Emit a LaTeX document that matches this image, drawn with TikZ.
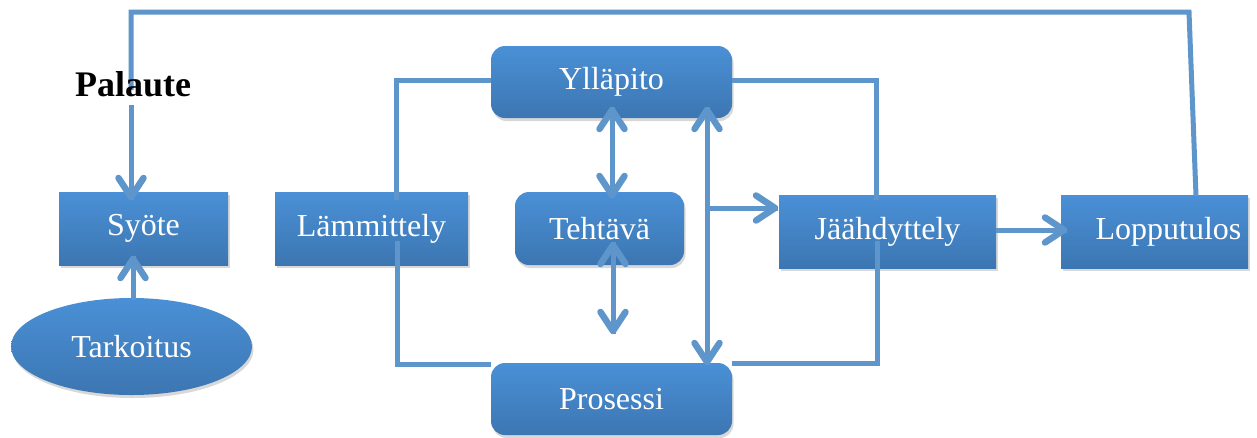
\documentclass[tikz,border=0pt]{standalone}
\usepackage{fontspec}
\setmainfont{Liberation Serif}
\usetikzlibrary{arrows.meta,shapes.geometric,shadows,shadings,decorations.markings}
\definecolor{boxtop}{RGB}{74,144,214}
\definecolor{boxbot}{RGB}{60,118,178}
\definecolor{conn}{RGB}{94,149,203}
\tikzset{
  blk/.style={draw=none, top color=boxtop, bottom color=boxbot, text=white,
    font=\fontsize{32}{38}\selectfont, inner sep=0pt,
    drop shadow={opacity=0.3, shadow xshift=1.5pt, shadow yshift=-3pt}},
  sqbox/.style={blk, rectangle},
  rbox/.style={blk, rectangle, rounded corners=14pt},
  oval/.style={blk, ellipse},
  conline/.style={draw=conn, line width=5pt},
  endbarb/.style={postaction={decorate, decoration={markings,
     mark=at position 1 with {\draw[conn, line width=6.5pt, line cap=round, line join=round] (-22pt,12.5pt) -- (-3pt,0pt) -- (-22pt,-12.5pt);}}}},
  startbarb/.style={postaction={decorate, decoration={markings,
     mark=at position 0 with {\draw[conn, line width=6.5pt, line cap=round, line join=round] (22pt,12.5pt) -- (3pt,0pt) -- (22pt,-12.5pt);}}}},
  arr/.style={conline, endbarb},
  darr/.style={conline, endbarb, startbarb},
}
\begin{document}
\begin{tikzpicture}[x=1pt,y=-1pt]
\useasboundingbox[fill=white] (0,0) rectangle (1257,437);
% nodes
\node[sqbox, minimum width=169pt, minimum height=73pt] (syote) at (143.5,228.5) {Syöte};
\node[oval, minimum width=241pt, minimum height=97pt] (tark) at (131.5,346.5) {Tarkoitus};
\node[sqbox, minimum width=193pt, minimum height=73pt] (lamm) at (371.5,228.5) {Lämmittely};
\node[rbox, minimum width=241pt, minimum height=72pt] (yll) at (611.5,82) {Ylläpito};
\node[rbox, minimum width=169pt, minimum height=73pt] (teh) at (599.5,228.5) {Tehtävä};
\node[rbox, minimum width=241pt, minimum height=72pt] (pros) at (611.5,399) {Prosessi};
\node[sqbox, minimum width=217pt, minimum height=73pt] (jaah) at (887.5,231.5) {Jäähdyttely};
\node[sqbox, minimum width=187pt, minimum height=73pt] (lop) at (1154.5,231.5) {\hspace*{28pt}Lopputulos};
% coordinates
\coordinate (fbstart) at (1196,196);
\coordinate (fbtr) at (1189,12);
\coordinate (fbtl) at (131,12);
\coordinate (fbend) at (131,90);
\coordinate (fbarr) at (131,105);
\coordinate (syotein) at (131,200);
\coordinate (tarkout) at (133,300);
\coordinate (syotebot) at (133,256);
\coordinate (lamtop) at (396,200);
\coordinate (lamtopc) at (396,80);
\coordinate (lambot) at (397,241);
\coordinate (lambotc) at (397,364);
\coordinate (proswest) at (491,364);
\coordinate (jaatopc) at (876,80);
\coordinate (jaatop) at (876,200);
\coordinate (jaabot) at (877,241);
\coordinate (jaabotc) at (877,363);
\coordinate (proseast) at (732,363);
\coordinate (ylla) at (612,107);
\coordinate (teha) at (612,198);
\coordinate (tehb) at (613,242);
\coordinate (tehfree) at (613,334);
\coordinate (yllb) at (707,107);
\coordinate (prosb) at (707,365);
\coordinate (branch) at (707,208);
\coordinate (jaain) at (778,208);
\coordinate (jaaout) at (996,230);
\coordinate (lopin) at (1067,230);
% connectors
\draw[conline] (fbstart) -- (fbtr) -- (fbtl) -- (fbend);
\draw[arr] (fbarr) -- (syotein);
\draw[arr] (tarkout) -- (syotebot);
\draw[conline] (lamtop) -- (lamtopc) -- (lamtopc -| yll.west);
\draw[conline] (lambot) -- (lambotc) -- (proswest);
\draw[conline] (yll.east |- jaatopc) -- (jaatopc) -- (jaatop);
\draw[conline] (jaabot) -- (jaabotc) -- (proseast);
\draw[darr] (ylla) -- (teha);
\draw[darr] (tehb) -- (tehfree);
\draw[darr] (yllb) -- (prosb);
\draw[arr] (branch) -- (jaain);
\draw[arr] (jaaout) -- (lopin);
\node[font=\bfseries\fontsize{36}{42}\selectfont, inner sep=0pt] (pal) at (133,84) {Palaute};
\end{tikzpicture}
\end{document}
